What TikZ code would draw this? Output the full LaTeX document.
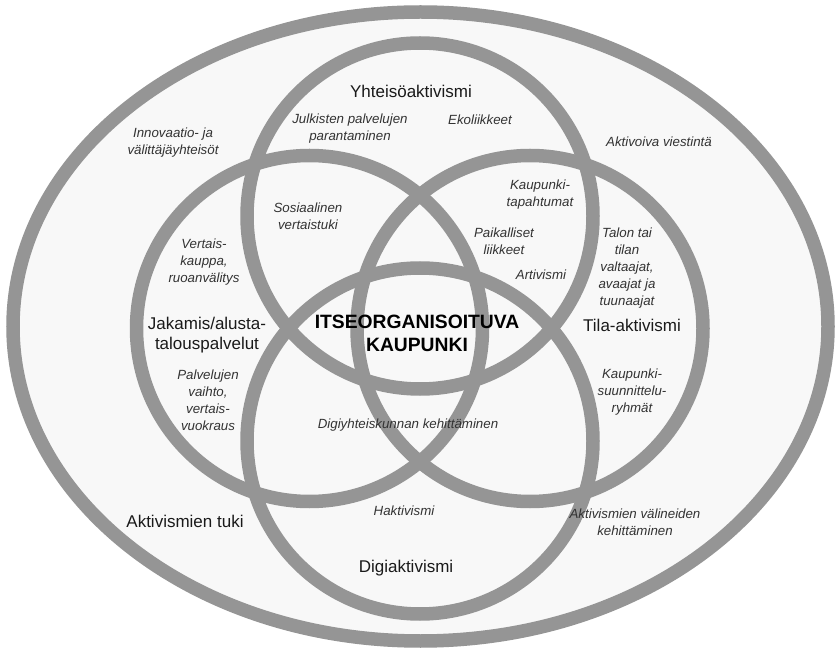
\documentclass[tikz,border=0pt]{standalone}
\usepackage{fontspec}
\setmainfont{Liberation Sans}
\definecolor{ringgray}{HTML}{959595}
\definecolor{paper}{HTML}{F8F8F8}
\definecolor{ink}{HTML}{1A1A1A}
\definecolor{inkit}{HTML}{333333}
\tikzset{
  ring/.style={draw=ringgray, line width=13.5pt},
  mainlbl/.style={text=ink, align=center, inner sep=0pt, font=\fontsize{17}{20}\selectfont},
  itemlbl/.style={text=inkit, align=center, inner sep=0pt, font=\fontsize{13.3}{17}\selectfont\itshape},
  centerlbl/.style={text=black, align=center, inner sep=0pt, font=\fontsize{19.3}{23}\selectfont\bfseries}
}
\begin{document}
\begin{tikzpicture}[x=1pt,y=-1pt]
\useasboundingbox (0,0) rectangle (836,652);
\fill[white] (0,0) rectangle (836,652);
% outer ellipse
\path[ring, fill=paper] (420.5,326.5) ellipse [x radius=407.5, y radius=314.5];
% four circles
\path[ring] (420,216) circle [radius=173];
\path[ring] (309.5,328.5) circle [radius=173];
\path[ring] (530,328.5) circle [radius=173];
\path[ring] (420,441) circle [radius=173];

% main labels
\node[mainlbl] (yht) at (411,91) {Yhteisöaktivismi};
\node[mainlbl] (jak) at (207,335) {Jakamis/alusta-\\talouspalvelut};
\node[mainlbl] (tila) at (632,325) {Tila-aktivismi};
\node[mainlbl] (digi) at (406,568) {Digiaktivismi};
\node[mainlbl] (tuki) at (185,521) {Aktivismien tuki};
\node[centerlbl] (itse) at (417,333) {ITSEORGANISOITUVA\\KAUPUNKI};

% items
\node[itemlbl] (julk) at (350,129) {Julkisten palvelujen\\parantaminen};
\node[itemlbl] (eko) at (480,120) {Ekoliikkeet};
\node[itemlbl] (inno) at (173,143) {Innovaatio- ja\\välittäjäyhteisöt};
\node[itemlbl] (aktv) at (659,142) {Aktivoiva viestintä};
\node[itemlbl] (sos) at (308,216) {Sosiaalinen\\vertaistuki};
\node[itemlbl] (ktap) at (540,195) {Kaupunki-\\tapahtumat};
\node[itemlbl] (paik) at (504,241) {Paikalliset\\liikkeet};
\node[itemlbl] (arti) at (541,275) {Artivismi};
\node[itemlbl] (talo) at (627,268) {Talon tai\\tilan\\valtaajat,\\avaajat ja\\tuunaajat};
\node[itemlbl] (ksuu) at (632,392) {Kaupunki-\\suunnittelu-\\ryhmät};
\node[itemlbl] (vert) at (204,262) {Vertais-\\kauppa,\\ruoanvälitys};
\node[itemlbl] (palv) at (208,400) {Palvelujen\\vaihto,\\vertais-\\vuokraus};
\node[itemlbl] (digy) at (408,425) {Digiyhteiskunnan kehittäminen};
\node[itemlbl] (hakt) at (404,511) {Haktivismi};
\node[itemlbl] (avali) at (635,522) {Aktivismien välineiden\\kehittäminen};
\end{tikzpicture}
\end{document}
